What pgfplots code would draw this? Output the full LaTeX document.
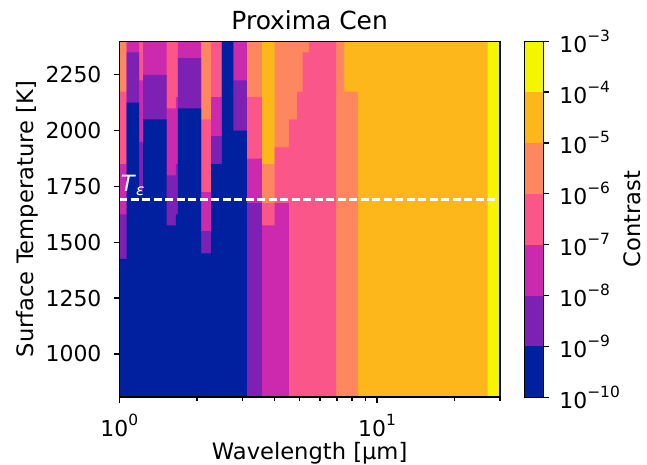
\documentclass[border=0pt]{standalone}
\usepackage{pgfplots}
\pgfplotsset{compat=1.18}
\usepackage{pgfplotstable}
\usepackage{fontspec}
\setmainfont{DejaVu Sans}

\definecolor{c0}{RGB}{0,32,159}
\definecolor{c1}{RGB}{124,33,180}
\definecolor{c2}{RGB}{203,42,174}
\definecolor{c3}{RGB}{250,86,137}
\definecolor{c4}{RGB}{255,135,95}
\definecolor{c5}{RGB}{254,183,26}
\definecolor{c6}{RGB}{245,245,0}

\newcommand\pw[1]{10\raisebox{11bp}{\fontsize{15.5}{16}\selectfont #1}}
\newcommand\pn[1]{10\raisebox{11bp}{\fontsize{15.5}{16}\selectfont −#1}}

% column left edge (micron) and temperature above which contrast level >= k
\pgfplotstableread{
x      b1   b2   b3   b4   b5   b6
1.0    1425 1625 1850 2175 2400 2400
1.0685 2125 2350 2400 2400 2400 2400
1.193  1725 1950 2225 2400 2400 2400
1.236  2050 2250 2400 2400 2400 2400
1.528  1575 1800 2100 2400 2400 2400
1.657  1625 1850 2150 2400 2400 2400
1.686  2100 2325 2400 2400 2400 2400
2.077  1450 1550 1725 2050 2400 2400
2.272  1850 1975 2150 2400 2400 2400
2.5    2400 2400 2400 2400 2400 2400
2.774  2000 2225 2400 2400 2400 2400
3.127  700  1675 1875 2150 2400 2400
3.576  700  700  1575 1675 1850 2400
4.004  700  700  1675 1925 2400 2400
4.553  700  700  700  2050 2400 2400
4.892  700  700  700  2175 2400 2400
5.143  700  700  700  2350 2400 2400
5.446  700  700  700  2400 2400 2400
6.935  700  700  700  700  2400 2400
7.469  700  700  700  700  2175 2400
8.445  700  700  700  700  700  2400
26.86  700  700  700  700  700  700
30     700  700  700  700  700  700
}\thr

\begin{document}
\begin{tikzpicture}
\useasboundingbox (-119.3bp,-67.8bp) rectangle (527.7bp,397.2bp);
\begin{axis}[
  at={(0,0)}, anchor=south west,
  width=380.7bp, height=355.9bp, scale only axis,
  xmode=log, xmin=1, xmax=30, ymin=806, ymax=2400,
  xtick={1,10}, xticklabels={\pw{0},\pw{1}},
  minor xtick={2,3,4,5,6,7,8,9,20,30},
  ytick={1000,1250,1500,1750,2000,2250},
  yticklabels={1000,1250,1500,1750,2000,2250},
  tick align=outside, tick pos=left,
  major tick length=5.7bp, minor tick length=3.3bp,
  every tick/.style={black, line width=1.3bp},
  axis line style={line width=1.5bp},
  ticklabel style={font=\fontsize{22}{26}\selectfont, inner sep=0pt},
  xticklabel style={anchor=north, yshift=-10.7bp},
  yticklabel style={anchor=east, xshift=-12bp},
  axis on top,
]
\addplot[fill=c6, draw=none] coordinates {(1,2400) (30,2400)} \closedcycle;
\addplot[fill=c5, draw=none, const plot] table[x=x, y=b6] {\thr} \closedcycle;
\addplot[fill=c4, draw=none, const plot] table[x=x, y=b5] {\thr} \closedcycle;
\addplot[fill=c3, draw=none, const plot] table[x=x, y=b4] {\thr} \closedcycle;
\addplot[fill=c2, draw=none, const plot] table[x=x, y=b3] {\thr} \closedcycle;
\addplot[fill=c1, draw=none, const plot] table[x=x, y=b2] {\thr} \closedcycle;
\addplot[fill=c0, draw=none, const plot] table[x=x, y=b1] {\thr} \closedcycle;
\addplot[white, line width=3bp, dash pattern=on 8bp off 3.5bp] coordinates {(1,1690) (30,1690)};
\node[anchor=base west, inner sep=0pt, text=white, font=\fontsize{22.5}{26}\selectfont]
  at (axis cs:1,1729) {\hspace{1.4bp}\textit{T}\raisebox{-4.7bp}{\fontsize{15.5}{16}\selectfont\textit{ε}}};
\end{axis}

\begin{axis}[
  at={(405.2bp,0)}, anchor=south west,
  width=19bp, height=355.9bp, scale only axis,
  xmin=0, xmax=1, ymin=0, ymax=7,
  xtick=\empty,
  ytick={0,1,2,3,4,5,6,7},
  yticklabels={\pn{10},\pn{9},\pn{8},\pn{7},\pn{6},\pn{5},\pn{4},\pn{3}},
  ytick pos=right, yticklabel pos=right,
  tick align=outside,
  major tick length=5.7bp,
  every tick/.style={black, line width=1.3bp},
  axis line style={line width=0.8bp},
  ticklabel style={font=\fontsize{22}{26}\selectfont, inner sep=0pt},
  yticklabel style={anchor=west, xshift=10bp},
  axis on top,
]
\addplot[fill=c6, draw=none] coordinates {(0,7) (1,7)} \closedcycle;
\addplot[fill=c5, draw=none] coordinates {(0,6) (1,6)} \closedcycle;
\addplot[fill=c4, draw=none] coordinates {(0,5) (1,5)} \closedcycle;
\addplot[fill=c3, draw=none] coordinates {(0,4) (1,4)} \closedcycle;
\addplot[fill=c2, draw=none] coordinates {(0,3) (1,3)} \closedcycle;
\addplot[fill=c1, draw=none] coordinates {(0,2) (1,2)} \closedcycle;
\addplot[fill=c0, draw=none] coordinates {(0,1) (1,1)} \closedcycle;
\end{axis}

\node[anchor=base, font=\fontsize{25}{29}\selectfont] at (190.35bp,367.2bp) {Proxima Cen};
\node[anchor=base, font=\fontsize{22.7}{27}\selectfont] at (190.35bp,-62.7bp) {Wavelength [µm]};
\node[anchor=base, rotate=90, font=\fontsize{22.7}{27}\selectfont] at (-86bp,178bp) {Surface Temperature [K]};
\node[anchor=base, rotate=90, font=\fontsize{22.7}{27}\selectfont] at (521bp,178bp) {Contrast};
\end{tikzpicture}
\end{document}
